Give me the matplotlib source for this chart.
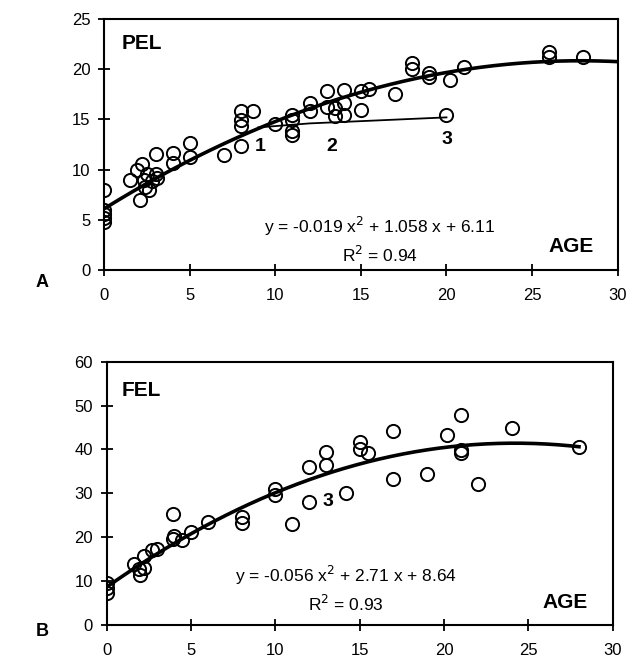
import numpy as np
import matplotlib
matplotlib.use("Agg")
import matplotlib.pyplot as plt

plt.rcParams['font.family'] = ['Liberation Sans', 'DejaVu Sans']

# ---- Panel A: PEL vs AGE ----
pel_age = [0, 0, 0, 0, 0, 1.5, 1.9, 2.1, 2.2, 2.3, 2.4, 2.5, 2.6, 2.8, 3.0, 3.0, 3.1,
           4.0, 4.0, 5.0, 5.0, 7.0, 8.0, 8.0, 8.0, 8.0, 8.7, 10.0, 11.0, 11.0, 11.0, 11.0,
           12.0, 12.0, 13.0, 13.0, 13.5, 13.5, 14.0, 14.0, 14.0, 15.0, 15.0, 15.5, 17.0,
           18.0, 18.0, 19.0, 19.0, 20.2, 21.0, 26.0, 26.0, 28.0, 20.0]
pel_val = [8.0, 6.0, 5.6, 5.2, 4.8, 9.0, 10.0, 7.0, 10.6, 9.0, 8.3, 9.6, 8.0, 8.9, 11.6, 9.6, 9.2,
           11.7, 10.7, 12.6, 11.3, 11.5, 15.8, 14.9, 14.3, 12.3, 15.8, 14.5, 15.4, 14.9, 13.8, 13.4,
           16.6, 15.8, 17.8, 16.2, 16.1, 15.3, 17.9, 16.6, 15.4, 17.8, 15.9, 18.0, 17.5,
           20.6, 20.0, 19.6, 19.2, 18.9, 20.2, 21.7, 21.2, 21.2, 15.4]
pel_coef = [-0.019, 1.058, 6.11]
pel_r2 = 0.94
branch_age = [9.0, 12.0, 16.0, 20.0]
branch_val = [14.2, 14.6, 14.9, 15.2]
branch_labels = ["1", "2", "3"]
branch_label_age = [9.1, 13.3, 20.0]
branch_label_val = [12.3, 12.3, 13.0]

# ---- Panel B: FEL vs AGE ----
fel_age = [0, 0, 0, 1.6, 1.9, 2.0, 2.2, 2.2, 2.7, 3.0, 3.95, 3.9, 4.0, 4.45, 5.0, 6.0,
           8.0, 8.0, 10.0, 10.0, 11.0, 12.0, 12.0, 13.0, 13.0, 14.2, 15.0, 15.0, 15.5,
           17.0, 17.0, 19.0, 20.2, 21.0, 21.0, 21.0, 22.0, 24.0, 28.0]
fel_val = [9.5, 8.4, 7.2, 13.8, 12.8, 11.4, 12.9, 15.8, 17.1, 17.3, 25.4, 19.6, 20.2, 19.4, 21.3, 23.5,
           24.6, 23.3, 31.0, 29.7, 23.1, 36.0, 28.1, 39.4, 36.4, 30.0, 41.8, 40.2, 39.3,
           44.3, 33.2, 34.5, 43.3, 47.8, 39.9, 39.3, 32.1, 44.8, 40.6]
fel_coef = [-0.056, 2.71, 8.64]
fel_r2 = 0.93

fig = plt.figure(figsize=(6.36, 6.59), dpi=100)
axA = fig.add_axes([0.164, 0.5903, 0.807, 0.3809])
axB = fig.add_axes([0.1678, 0.0516, 0.7956, 0.3996])

def style(ax, ymax, ystep):
    ax.set_xlim(0, 30)
    ax.set_ylim(0, ymax)
    ax.set_xticks(np.arange(0, 31, 5))
    ax.set_yticks(np.arange(0, ymax + 1, ystep))
    for s in ax.spines.values():
        s.set_linewidth(1.5)
    ax.tick_params(direction='inout', length=8, width=1.3, labelsize=12)
    ax.tick_params(axis='x', pad=9)
    ax.tick_params(axis='y', pad=6)

mk = dict(ls='none', marker='o', ms=9.5, mfc='none', mec='black', mew=1.4)

# Panel A
axA.plot(pel_age, pel_val, **mk)
xa = np.linspace(0, 30, 200)
axA.plot(xa, np.polyval(pel_coef, xa), color='black', lw=2.6)
axA.plot(branch_age, branch_val, color='black', lw=1.3)
for t, bx, by in zip(branch_labels, branch_label_age, branch_label_val):
    axA.text(bx, by, t, fontsize=14, fontweight='bold', ha='center', va='center')
style(axA, 25, 5)
axA.text(1.0, 22.6, "PEL", fontsize=15, fontweight='bold', va='center', ha='left')
axA.text(16.1, 4.3, r"y = -0.019 x$^2$ + 1.058 x + 6.11", fontsize=12.5, ha='center', va='center')
axA.text(16.1, 1.5, r"R$^2$ = %.2f" % pel_r2, fontsize=12.5, ha='center', va='center')
axA.text(27.3, 2.3, "AGE", fontsize=15, fontweight='bold', ha='center', va='center')

# Panel B
axB.plot(fel_age, fel_val, **mk)
xb = np.linspace(0, 28, 200)
axB.plot(xb, np.polyval(fel_coef, xb), color='black', lw=2.6)
style(axB, 60, 10)
axB.text(13.1, 28.1, "3", fontsize=14, fontweight='bold', ha='center', va='center')
axB.text(0.9, 53.5, "FEL", fontsize=15, fontweight='bold', va='center', ha='left')
axB.text(14.2, 11.4, r"y = -0.056 x$^2$ + 2.71 x + 8.64", fontsize=12.5, ha='center', va='center')
axB.text(14.2, 4.9, r"R$^2$ = %.2f" % fel_r2, fontsize=12.5, ha='center', va='center')
axB.text(27.2, 5.1, "AGE", fontsize=15, fontweight='bold', ha='center', va='center')

fig.text(0.066, 0.5706, "A", fontsize=13, fontweight='bold', ha='center', va='center')
fig.text(0.066, 0.041, "B", fontsize=13, fontweight='bold', ha='center', va='center')

fig.savefig("out.png", dpi=100)
